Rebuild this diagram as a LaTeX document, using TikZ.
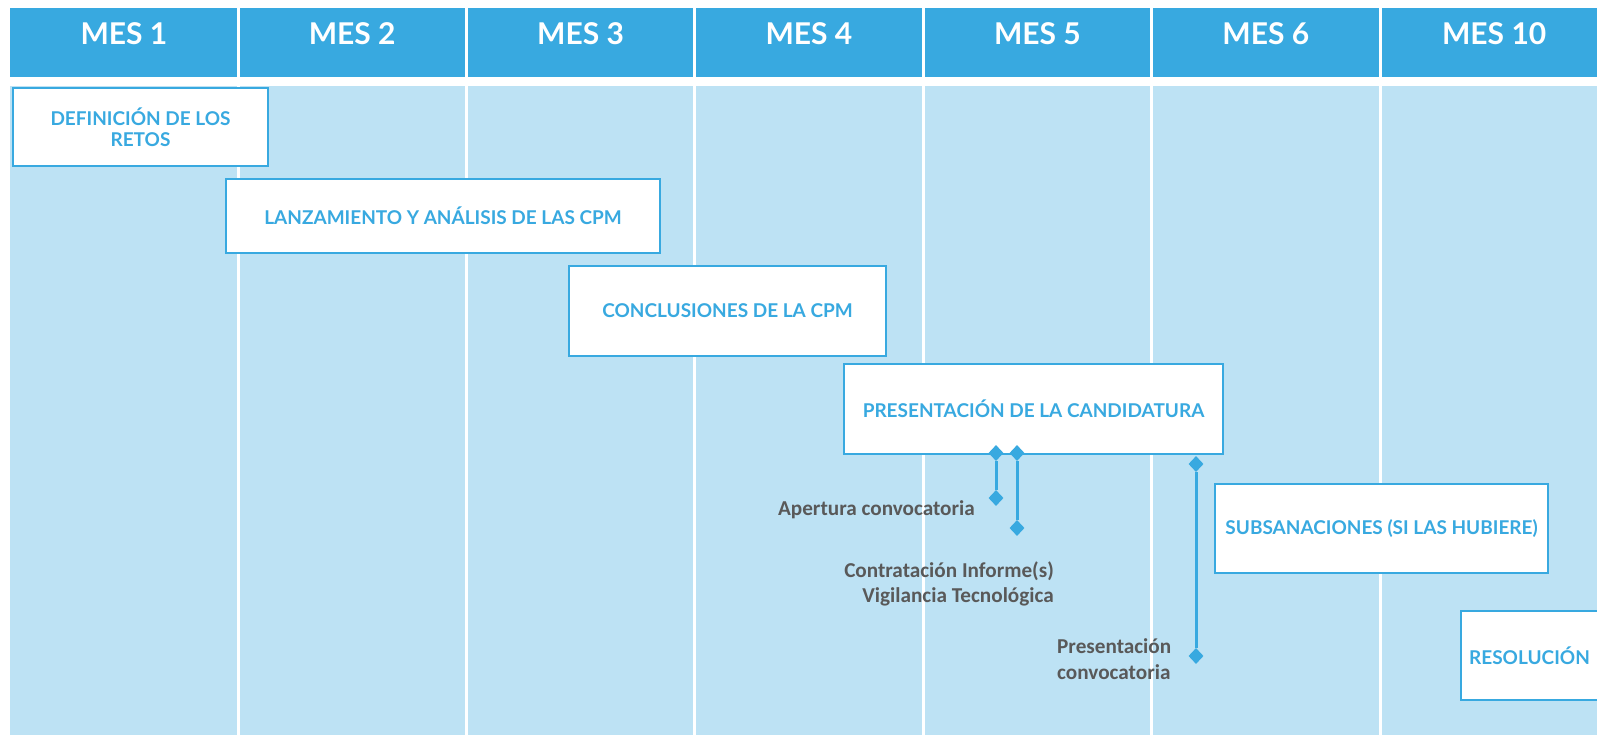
\documentclass[tikz,border=0pt]{standalone}
\usepackage{fontspec}
\setmainfont{Lato}
\newfontfamily\notefont{Carlito}
\usetikzlibrary{positioning, shapes.geometric}

\definecolor{mesblue}{HTML}{38A9E0}
\definecolor{mesback}{HTML}{BDE2F4}
\definecolor{notegray}{HTML}{595959}

\tikzset{
    mes/.style={text=white, font=\fontsize{30}{36}\selectfont\bfseries},
    tarea/.style={draw=mesblue, line width=2pt, fill=white, text=mesblue, align=center, inner sep=0pt,
        font=\fontsize{19}{20.5}\selectfont\bfseries},
    hito/.style={diamond, fill=mesblue, inner sep=0pt, minimum width=15pt, minimum height=16pt},
    nota/.style={text=notegray, font=\notefont\fontsize{21.2}{25.5}\selectfont\bfseries, inner sep=0pt}
}

\begin{document}
\begin{tikzpicture}[x=1pt, y=-1pt]
            \useasboundingbox (0, 0) rectangle (1597, 735);

            \fill[mesblue] (10, 8) rectangle (1597, 77);
            \fill[mesback] (10, 86) rectangle (1597, 735);
            \draw[white, line width=3pt] (238, 8) -- (238, 735);
            \draw[white, line width=3pt] (466.4, 8) -- (466.4, 735);
            \draw[white, line width=3pt] (694.8, 8) -- (694.8, 735);
            \draw[white, line width=3pt] (923.2, 8) -- (923.2, 735);
            \draw[white, line width=3pt] (1151.6, 8) -- (1151.6, 735);
            \draw[white, line width=3pt] (1380, 8) -- (1380, 735);

            \node[mes] (mes1) at (124, 34) {MES 1};
            \node[mes] (mes2) at (352.2, 34) {MES 2};
            \node[mes] (mes3) at (580.6, 34) {MES 3};
            \node[mes] (mes4) at (809, 34) {MES 4};
            \node[mes] (mes5) at (1037.4, 34) {MES 5};
            \node[mes] (mes6) at (1265.8, 34) {MES 6};
            \node[mes] (mes10) at (1494.2, 34) {MES 10};

            \node[tarea, minimum width=255pt, minimum height=78pt] (retos) at (140.5, 127) {DEFINICIÓN DE LOS\\RETOS};
            \node[tarea, minimum width=434pt, minimum height=74pt] (lanzamiento) at (443, 216) {LANZAMIENTO Y ANÁLISIS DE LAS CPM};
            \node[tarea, minimum width=317pt, minimum height=90pt] (conclusiones) at (727.5, 311) {CONCLUSIONES DE LA CPM};
            \node[tarea, minimum width=379pt, minimum height=90pt] (candidatura) at (1033.5, 409) {PRESENTACIÓN DE LA CANDIDATURA};
            \node[tarea, minimum width=333pt, minimum height=89pt] (subsanaciones) at (1381.5, 528.5) {SUBSANACIONES (SI LAS HUBIERE)};
            \node[tarea, minimum width=137pt, minimum height=89pt] (resolucion) at (1529.5, 655.5) {RESOLUCIÓN};

            \node[hito] (apertura_top) at (996, 453) {};
            \node[hito] (apertura_bot) at (996, 498) {};
            \node[hito] (contrato_top) at (1017, 453) {};
            \node[hito] (contrato_bot) at (1017, 528) {};
            \node[hito] (convoca_top) at (1196, 464) {};
            \node[hito] (convoca_bot) at (1196, 656) {};

            \draw[mesblue, line width=3pt] (apertura_top) -- (apertura_bot);
            \draw[mesblue, line width=3pt] (contrato_top) -- (contrato_bot);
            \draw[mesblue, line width=3pt] (convoca_top) -- (convoca_bot);

            \node[nota, anchor=base east] (apertura) at (975, 515) {Apertura convocatoria};
            \node[nota, anchor=east, align=right] (contrato) at (1054, 584) {Contratación Informe(s)\\Vigilancia Tecnológica};
            \node[nota, anchor=west, align=left] (convoca) at (1057, 659) {Presentación\\convocatoria};
        \end{tikzpicture}
\end{document}
